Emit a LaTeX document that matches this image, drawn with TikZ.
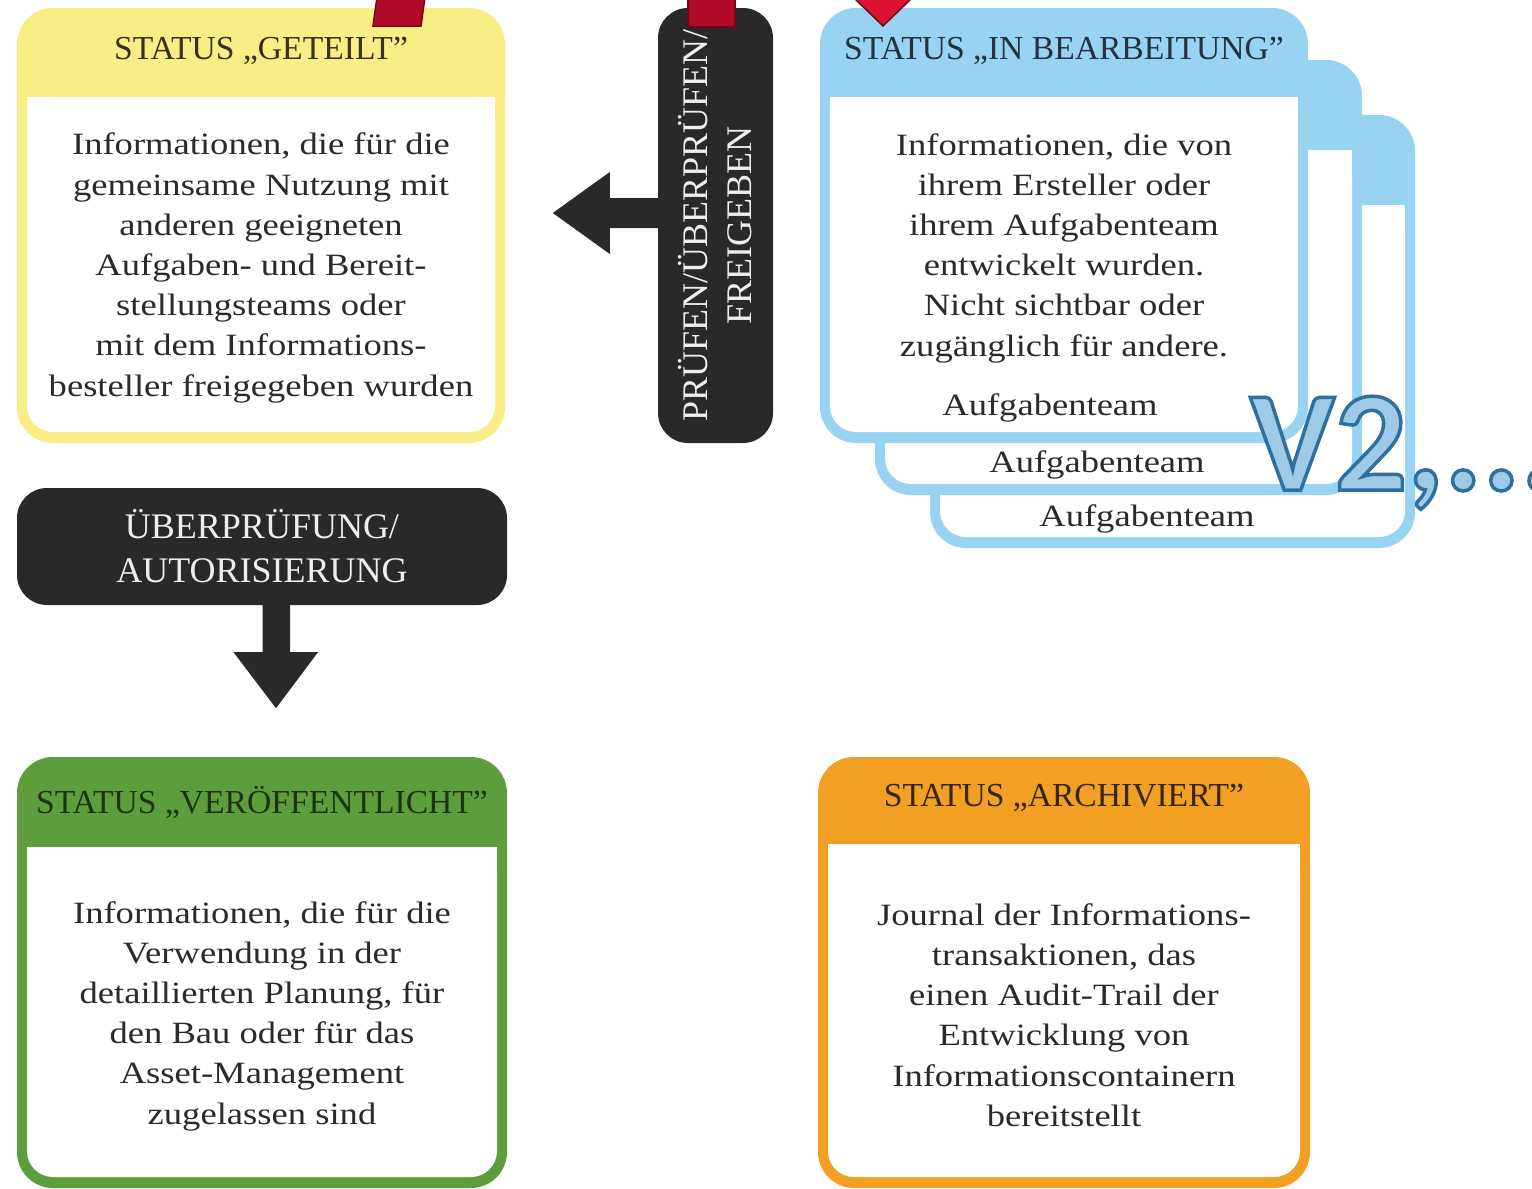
\documentclass[tikz,border=0pt]{standalone}
\usepackage{fontspec}
\setmainfont{Liberation Serif}
\newfontfamily\bodyf[FakeStretch=1.18]{Liberation Serif}
\newfontfamily\vfont{Carlito}
\usetikzlibrary{calc}
\definecolor{cyellow}{RGB}{249,238,134}
\definecolor{cblue}{RGB}{152,212,242}
\definecolor{cgreen}{RGB}{94,157,60}
\definecolor{corange}{RGB}{241,160,36}
\definecolor{cdark}{RGB}{42,41,41}
\definecolor{tbody}{RGB}{42,42,42}
\definecolor{tyellow}{RGB}{55,50,30}
\definecolor{tblue}{RGB}{35,50,62}
\definecolor{tgreen}{RGB}{28,52,18}
\definecolor{torange}{RGB}{55,38,12}
\definecolor{tlight}{RGB}{238,238,238}
\definecolor{redA}{RGB}{176,10,40}
\definecolor{redB}{RGB}{218,18,50}
\definecolor{redline}{RGB}{110,8,22}
\definecolor{vfill}{RGB}{158,202,230}
\newcommand\stbox[6]{%
  \fill[#6, rounded corners=36pt] (#1,#2) rectangle (#3,#4);
  \fill[white, rounded corners=26pt] (#1+10,#5) rectangle (#3-10,#4-11);
  \fill[white] (#1+10,#5) rectangle (#3-10,#5+40);
}
\tikzset{
  hdr/.style={font=\fontsize{33.6}{38}\selectfont, inner sep=0pt, align=center},
  bodytext/.style={font=\bodyf\fontsize{31}{40.2}\selectfont, text=tbody, align=center, inner sep=0pt},
  darkbox/.style={fill=cdark, rounded corners=30pt, inner sep=0pt},
  darktext/.style={font=\fontsize{36}{44}\selectfont, text=tlight, align=center, inner sep=0pt},
  redshape/.style={draw=redline, line width=1.5pt, line join=miter}
}
\begin{document}
\begin{tikzpicture}[x=1pt,y=-1pt]
\useasboundingbox (0,0) rectangle (1532,1189);
\fill[white] (0,0) rectangle (1532,1189);

% boxes
\stbox{17}{8}{505}{443}{97}{cyellow}
\stbox{930}{115}{1415}{548}{205}{cblue}
\stbox{875}{60}{1362}{495}{150}{cblue}
\stbox{820}{8}{1308}{443}{97}{cblue}
\stbox{17}{757}{507}{1188}{847}{cgreen}
\stbox{818}{757}{1310}{1188}{844}{corange}

% yellow
\node[hdr, text=tyellow] (hgeteilt) at (261,51) {STATUS „GETEILT”};
\node[bodytext] (bgeteilt) at (261,268) {Informationen, die für die\\gemeinsame Nutzung mit\\anderen geeigneten\\Aufgaben- und Bereit-\\stellungsteams oder\\mit dem Informations-\\besteller freigegeben wurden};

% blue
\node[hdr, text=tblue] (hbearb) at (1064,51) {STATUS „IN BEARBEITUNG”};
\node[bodytext] (bbearb) at (1064,248) {Informationen, die von\\ihrem Ersteller oder\\ihrem Aufgabenteam\\entwickelt wurden.\\Nicht sichtbar oder\\zugänglich für andere.};
\node[bodytext] (team1) at (1050,408) {Aufgabenteam};
\node[bodytext] (team2) at (1097,465) {Aufgabenteam};
\node[bodytext] (team3) at (1147,519) {Aufgabenteam};

% green
\node[hdr, text=tgreen] (hveroeff) at (262,802) {STATUS „VERÖFFENTLICHT”};
\node[bodytext] (bveroeff) at (262,1016) {Informationen, die für die\\Verwendung in der\\detaillierten Planung, für\\den Bau oder für das\\Asset-Management\\zugelassen sind};

% orange
\node[hdr, text=torange] (harch) at (1064,798) {STATUS „ARCHIVIERT”};
\node[bodytext] (barch) at (1064,1015) {Journal der Informations-\\transaktionen, das\\einen Audit-Trail der\\Entwicklung von\\Informationscontainern\\bereitstellt};

% dark boxes
\node[darkbox, minimum width=115pt, minimum height=435pt] (pbox) at (715.5,225.5) {};
\node[darktext, rotate=90] (ptext) at (pbox.center) {PRÜFEN/ÜBERPRÜFEN/\\FREIGEBEN};
\node[darkbox, minimum width=490pt, minimum height=117pt] (ubox) at (262,546.5) {};
\node[darktext] (utext) at (ubox.center) {ÜBERPRÜFUNG/\\AUTORISIERUNG};

% block arrows
\fill[cdark] ($(pbox.west)+(1,-27.5)$) -- ++(-49,0) -- ++(0,-26) -- ($(pbox.west)+(-105,-12.5)$)
  -- ($(pbox.west)+(-48,28.5)$) -- ++(0,-26) -- ($(pbox.west)+(1,2.5)$) -- cycle;
\fill[cdark] ($(ubox.south)+(0.5,-1)$) -- ++(0,48) -- ++(-29,0) -- ($(ubox.south)+(14,103)$)
  -- ($(ubox.south)+(56,47)$) -- ++(-28,0) -- ($(ubox.south)+(28,-1)$) -- cycle;

% V2 text
\begin{scope}
\clip (0,0) rectangle (1532,1189);
\node[anchor=base west, inner sep=0pt, text=vfill, font=\vfont\bfseries\fontsize{143}{150}\selectfont] (vtwo) at (1250,490)
  {\special{pdf:literal 2 Tr 3.5 w 0.19 0.44 0.62 RG}V2,...\special{pdf:literal 0 Tr}};
\end{scope}

% red shapes (cut at top)
\fill[redA, redshape] (377,-3) -- (373,26) -- (421,26) -- (425,-3) -- cycle;
\fill[redA, redshape] (688,-3) rectangle (735,27);
\fill[redB, redshape] (853,-3) -- (913,-3) -- (883,26) -- cycle;
\end{tikzpicture}
\end{document}
